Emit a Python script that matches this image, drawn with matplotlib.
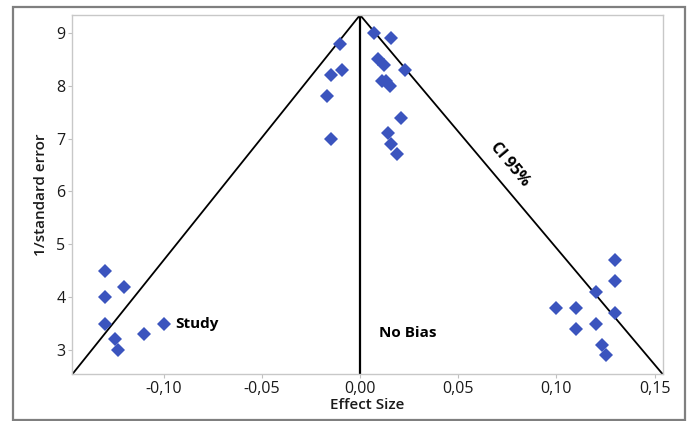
import matplotlib
matplotlib.use("Agg")
import matplotlib.pyplot as plt
from matplotlib.ticker import FuncFormatter, FixedLocator
from matplotlib.patches import Rectangle

plt.rcParams['font.family'] = ['Open Sans', 'DejaVu Sans']

# Study effect sizes and precision (1/standard error)
effect = [-0.010, -0.015, -0.009, -0.017, -0.015,
          0.007, 0.016, 0.009, 0.012, 0.023, 0.011, 0.013, 0.015, 0.021, 0.014, 0.016, 0.019,
          -0.130, -0.130, -0.120, -0.130, -0.100, -0.110, -0.125, -0.123,
          0.130, 0.130, 0.120, 0.100, 0.110, 0.130, 0.110, 0.120, 0.123, 0.125]
precision = [8.8, 8.2, 8.3, 7.8, 7.0,
             9.0, 8.9, 8.5, 8.4, 8.3, 8.1, 8.1, 8.0, 7.4, 7.1, 6.9, 6.7,
             4.5, 4.0, 4.2, 3.5, 3.5, 3.3, 3.2, 3.0,
             4.7, 4.3, 4.1, 3.8, 3.8, 3.7, 3.4, 3.5, 3.1, 2.9]

x_ticks = [-0.10, -0.05, 0.00, 0.05, 0.10, 0.15]
y_ticks = [3, 4, 5, 6, 7, 8, 9]

# funnel geometry
apex = (0.0, 9.34)
funnel_left = (-0.1464, 2.546)
funnel_right = (0.1540, 2.546)

fig = plt.figure(figsize=(6.91, 4.21), dpi=100)
fig.patches.append(Rectangle((0.0195, 0.003), 0.972, 0.980, transform=fig.transFigure,
                             fill=False, edgecolor='#7f7f7f', linewidth=1.6))
ax = fig.add_axes([0.1049, 0.1116, 0.8539, 0.8528])

ax.set_xlim(funnel_left[0], funnel_right[0])
ax.set_ylim(funnel_left[1], apex[1])

ax.plot([funnel_left[0], apex[0], funnel_right[0]], [funnel_left[1], apex[1], funnel_right[1]],
        color='black', linewidth=1.3, zorder=2)
ax.plot([0, 0], [funnel_left[1], apex[1]], color='black', linewidth=1.6, zorder=2)

ax.plot(effect, precision, linestyle='none', marker='D', markersize=7.3,
        color='#3b54be', markeredgewidth=0, zorder=3)

ax.xaxis.set_major_locator(FixedLocator(x_ticks))
ax.yaxis.set_major_locator(FixedLocator(y_ticks))
ax.xaxis.set_major_formatter(FuncFormatter(lambda v, p: f"{v:.2f}".replace('.', ',').replace('-0,00', '0,00')))
ax.yaxis.set_major_formatter(FuncFormatter(lambda v, p: f"{v:.0f}"))
ax.tick_params(axis='both', direction='out', length=3, width=0.8, color='#c0c0c0',
               labelsize=11.5, pad=2, labelcolor='#1a1a1a')
for s in ax.spines.values():
    s.set_color('#c8c8c8')
    s.set_linewidth(1.0)

ax.set_xlabel('Effect Size', fontsize=11, fontweight='semibold', labelpad=1, color='#1a1a1a')
ax.set_ylabel('1/standard error', fontsize=11, fontweight='semibold', labelpad=6, color='#1a1a1a')

ax.text(-0.094, 3.5, 'Study', fontsize=11, fontweight='bold', ha='left', va='center')
ax.text(0.0095, 3.32, 'No Bias', fontsize=11, fontweight='bold', ha='left', va='center')
ax.text(0.0764, 6.52, 'CI 95%', fontsize=11.5, fontweight='bold', ha='center', va='center',
        rotation=-50, rotation_mode='anchor')

fig.savefig('out.png', dpi=100)
